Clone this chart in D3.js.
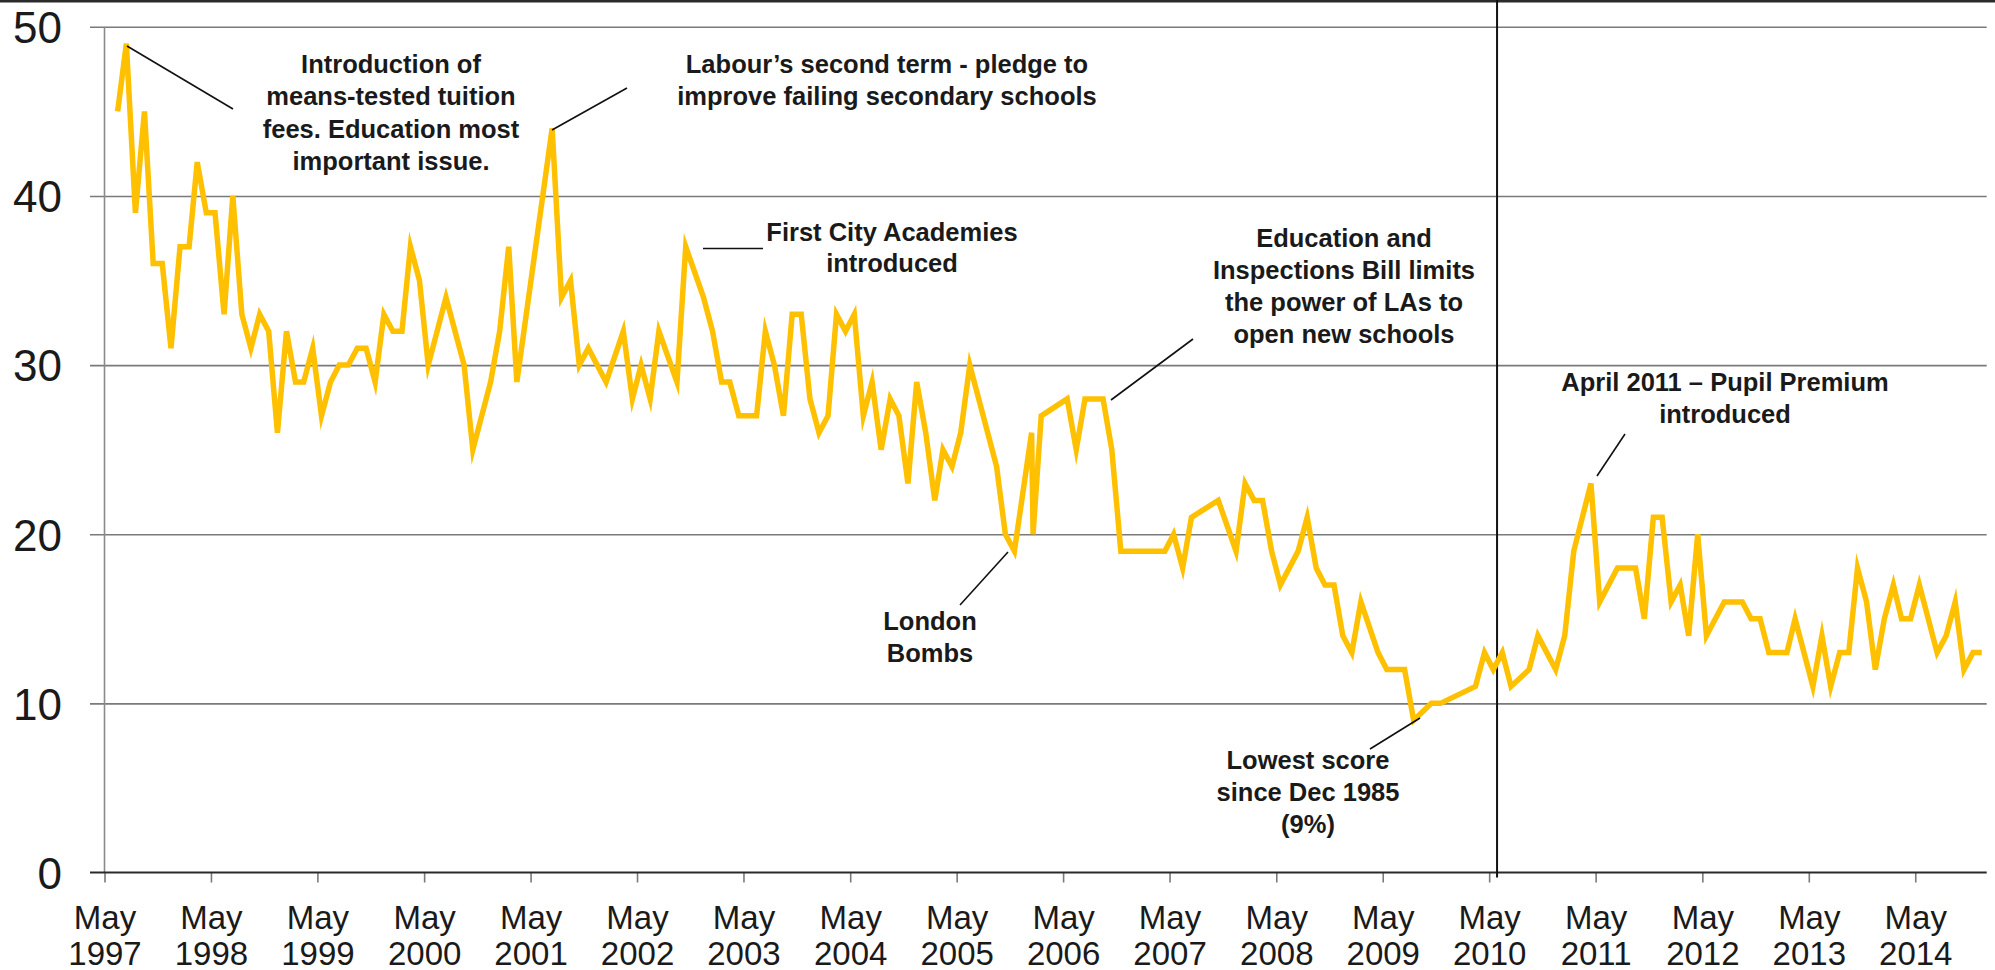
<!DOCTYPE html>
<html>
<head>
<meta charset="utf-8">
<script src="https://cdn.jsdelivr.net/npm/d3@7"></script>
<style>
  html, body { margin: 0; padding: 0; background: #ffffff; }
  svg { display: block; }
</style>
</head>
<body>
<svg id="chart" width="1995" height="970"></svg>
<script>
// ---------------- DATA ----------------
const pollDates = [
  "1997-06-15","1997-07-15","1997-08-15","1997-09-15","1997-10-15","1997-11-15","1997-12-15",
  "1998-01-15","1998-02-15","1998-03-15","1998-04-15","1998-05-15","1998-06-15","1998-07-15","1998-08-15","1998-09-15","1998-10-15","1998-11-15","1998-12-15",
  "1999-01-15","1999-02-15","1999-03-15","1999-04-15","1999-05-15","1999-06-15","1999-07-15","1999-08-15","1999-09-15","1999-10-15","1999-11-15","1999-12-15",
  "2000-01-15","2000-02-15","2000-03-15","2000-04-15","2000-05-15","2000-07-15","2000-09-15","2000-10-15","2000-12-15",
  "2001-01-15","2001-02-15","2001-03-15","2001-07-14","2001-08-15","2001-09-15","2001-10-15","2001-11-15",
  "2002-01-15","2002-03-15","2002-04-15","2002-05-15","2002-06-15","2002-07-15","2002-09-15","2002-10-15","2002-12-15",
  "2003-01-15","2003-02-15","2003-03-15","2003-04-15","2003-06-15","2003-07-15","2003-08-15","2003-09-15","2003-10-15","2003-11-15","2003-12-15",
  "2004-01-15","2004-02-15","2004-03-15","2004-04-15","2004-05-15","2004-06-15","2004-07-15","2004-08-15","2004-09-15","2004-10-15","2004-11-15","2004-12-15",
  "2005-01-15","2005-02-15","2005-03-15","2005-04-15","2005-05-15","2005-06-15","2005-09-15","2005-10-15","2005-11-15",
  "2006-01-13","2006-01-18","2006-02-15","2006-05-15","2006-06-15","2006-07-15","2006-09-15","2006-10-15","2006-11-15",
  "2007-04-15","2007-05-15","2007-06-15","2007-07-15","2007-10-15","2007-12-15",
  "2008-01-15","2008-02-15","2008-03-15","2008-04-15","2008-05-15","2008-07-15","2008-08-15","2008-09-15","2008-10-15","2008-11-15","2008-12-15",
  "2009-01-15","2009-02-15","2009-04-15","2009-05-15","2009-07-15","2009-08-15","2009-10-15","2009-11-15",
  "2010-03-15","2010-04-15","2010-05-15","2010-06-15","2010-07-15","2010-09-15","2010-10-15","2010-12-15",
  "2011-01-15","2011-02-15","2011-04-15","2011-05-15","2011-07-15","2011-09-15","2011-10-15","2011-11-15","2011-12-15",
  "2012-01-15","2012-02-15","2012-03-15","2012-04-15","2012-05-15","2012-07-15","2012-09-15","2012-10-15","2012-11-15","2012-12-15",
  "2013-02-15","2013-03-15","2013-05-15","2013-06-15","2013-07-15","2013-08-15","2013-09-15","2013-10-15","2013-11-15","2013-12-15",
  "2014-01-15","2014-02-15","2014-03-15","2014-04-15","2014-05-15","2014-07-15","2014-08-15","2014-09-15","2014-10-15","2014-11-15","2014-12-15"
];
const educationScores = [
  45,49,39,45,36,36,31,
  37,37,42,39,39,33,40,33,31,33,32,26,
  32,29,29,31,27,29,30,30,31,31,29,33,
  32,32,37,35,30,34,30,25,29,
  32,37,29,44,34,35,30,31,
  29,32,28,30,28,32,29,37,34,
  32,29,29,27,27,32,30,27,33,33,28,
  26,27,33,32,33,27,29,25,28,27,23,29,
  26,22,25,24,26,30,24,20,19,
  26,20,27,28,25,28,28,25,19,
  19,20,18,21,22,19,
  23,22,22,19,17,19,21,18,17,17,14,
  13,16,13,12,12,9,10,10,
  11,13,12,13,11,12,14,12,
  14,19,23,16,18,18,15,21,21,
  16,17,14,20,14,16,16,15,15,13,
  13,15,11,14,11,13,13,18,16,12,
  15,17,15,15,17,13,14,16,12,13,13
];
const tickDates = ["1997-05-01","1998-05-01","1999-05-01","2000-05-01","2001-05-01","2002-05-01","2003-05-01","2004-05-01","2005-05-01",
  "2006-05-01","2007-05-01","2008-05-01","2009-05-01","2010-05-01","2011-05-01","2012-05-01","2013-05-01","2014-05-01"];
const tickMonthLabels = ["May","May","May","May","May","May","May","May","May","May","May","May","May","May","May","May","May","May"];
const tickYearLabels = ["1997","1998","1999","2000","2001","2002","2003","2004","2005","2006","2007","2008","2009","2010","2011","2012","2013","2014"];
const yTicks = [0, 10, 20, 30, 40, 50];
const axisStart = "1997-05-01";
const axisEnd = "2015-01-01";
const electionMarkerDate = "2010-05-28";

const annotationTexts = [
  ["Introduction of", "means-tested tuition", "fees. Education most", "important issue."],
  ["Labour\u2019s second term - pledge to", "improve failing secondary schools"],
  ["First City Academies", "introduced"],
  ["Education and", "Inspections Bill limits", "the power of LAs to", "open new schools"],
  ["April 2011 \u2013 Pupil Premium", "introduced"],
  ["London", "Bombs"],
  ["Lowest score", "since Dec 1985", "(9%)"]
];

// ---------------- LAYOUT ----------------
const parse = d3.timeParse("%Y-%m-%d");
const W = 1995, H = 970;
const plot = { left: 104.5, right: 1986.7, top: 26.8, bottom: 872.5, gridLeft: 90 };

const svg = d3.select("#chart");
const x = d3.scaleTime().domain([parse(axisStart), parse(axisEnd)]).range([plot.left, plot.right]);
const y = d3.scaleLinear().domain([0, 50]).range([plot.bottom, plot.top]);

const FONT = "'Liberation Sans', Arial, Helvetica, sans-serif";

// top border
svg.append("rect").attr("x", 0).attr("y", 0).attr("width", W).attr("height", 2.5).attr("fill", "#2b2b2b");

// gridlines (via axis)
const grid = svg.append("g").attr("transform", `translate(${plot.gridLeft},0)`)
  .call(d3.axisRight(y).tickValues(yTicks.filter(d => d > 0)).tickSize(plot.right - plot.gridLeft).tickFormat(""));
grid.select(".domain").remove();
grid.selectAll(".tick line").attr("stroke", "#7a7a7a").attr("stroke-width", 1.6);

// y axis line
svg.append("line").attr("x1", plot.left).attr("x2", plot.left).attr("y1", plot.top).attr("y2", plot.bottom)
  .attr("stroke", "#8a8a8a").attr("stroke-width", 1.6);

// y labels
const yLab = svg.append("g").attr("transform", `translate(62,0)`)
  .call(d3.axisLeft(y).tickValues(yTicks).tickSize(0).tickPadding(0).tickFormat(d3.format("d")));
yLab.select(".domain").remove();
yLab.selectAll(".tick text").attr("font-family", FONT).attr("font-size", 44).attr("fill", "#1a1a1a")
  .attr("dy", "0.36em");

// x axis
const xAxis = svg.append("g").attr("transform", `translate(0,${plot.bottom})`)
  .call(d3.axisBottom(x).tickValues(tickDates.map(parse)).tickSize(10).tickFormat(""));
xAxis.select(".domain").remove();
xAxis.selectAll(".tick line").attr("stroke", "#7a7a7a").attr("stroke-width", 1.6);
svg.append("line").attr("x1", plot.gridLeft).attr("x2", plot.right).attr("y1", plot.bottom).attr("y2", plot.bottom)
  .attr("stroke", "#2a2a2a").attr("stroke-width", 2);

xAxis.selectAll(".tick").each(function(d, i) {
  const t = d3.select(this).append("text")
    .attr("font-family", FONT).attr("font-size", 33).attr("fill", "#1a1a1a").attr("text-anchor", "middle");
  t.append("tspan").attr("x", 0).attr("y", 56).text(tickMonthLabels[i]);
  t.append("tspan").attr("x", 0).attr("y", 92).text(tickYearLabels[i]);
});

// vertical marker line
svg.append("line").attr("x1", x(parse(electionMarkerDate))).attr("x2", x(parse(electionMarkerDate)))
  .attr("y1", 0).attr("y2", plot.bottom + 5).attr("stroke", "#111").attr("stroke-width", 2);

// data line
const series = pollDates.map((d, i) => ({ date: parse(d), value: educationScores[i] }));
const line = d3.line().x(d => x(d.date)).y(d => y(d.value));
svg.append("path").datum(series).attr("d", line)
  .attr("fill", "none").attr("stroke", "#FFC000").attr("stroke-width", 5.5)
  .attr("stroke-linejoin", "miter").attr("stroke-miterlimit", 6);

// annotations
const annLayout = [
  { cx: 391, cy: 64, lh: 32.5, leader: [[127, 46], [233, 109]] },
  { cx: 887, cy: 64, lh: 32, leader: [[552, 130], [627, 88]] },
  { cx: 892, cy: 232, lh: 31, leader: [[703, 248.5], [763, 248.5]] },
  { cx: 1344, cy: 238, lh: 32, leader: [[1111, 400], [1193, 339]] },
  { cx: 1725, cy: 382, lh: 32, leader: [[1597, 476], [1625, 434]] },
  { cx: 930, cy: 621, lh: 32, leader: [[960, 605], [1008, 552]] },
  { cx: 1308, cy: 760, lh: 32, leader: [[1370, 749], [1420, 718]] }
];
annLayout.forEach((a, k) => {
  svg.append("line").attr("x1", a.leader[0][0]).attr("y1", a.leader[0][1])
    .attr("x2", a.leader[1][0]).attr("y2", a.leader[1][1]).attr("stroke", "#111").attr("stroke-width", 1.6);
  const t = svg.append("text").attr("font-family", FONT).attr("font-weight", "bold").attr("font-size", 25.5)
    .attr("fill", "#1a1a1a").attr("text-anchor", "middle");
  annotationTexts[k].forEach((s, j) => {
    t.append("tspan").attr("x", a.cx).attr("y", a.cy + j * a.lh).attr("dy", "0.35em").text(s);
  });
});
</script>
</body>
</html>
